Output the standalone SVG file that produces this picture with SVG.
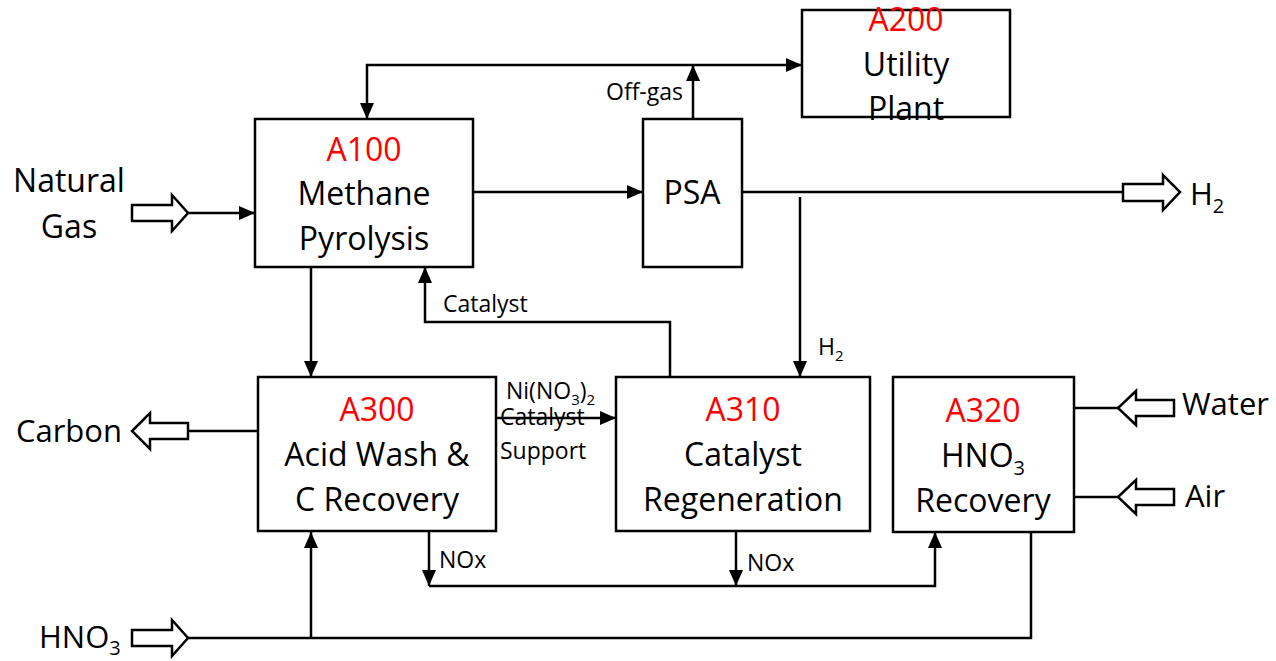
<svg xmlns="http://www.w3.org/2000/svg" width="1276" height="661" viewBox="0 0 1276 661">
<style>
.box{fill:#fff;stroke:#000;stroke-width:2.5}
.ln{fill:none;stroke:#000;stroke-width:2.5}
.hol{fill:#fff;stroke:#000;stroke-width:2.5;stroke-linejoin:miter}
.big{font-family:"Open Sans","Liberation Sans",sans-serif;font-size:31px;fill:#000}
.mid{font-family:"Open Sans","Liberation Sans",sans-serif;font-size:32px;fill:#000;text-anchor:middle}
.red{fill:#ff0000}
.sm{font-family:"Open Sans","Liberation Sans",sans-serif;font-size:23px;fill:#000}
</style>
<defs>
<marker id="ah" markerUnits="userSpaceOnUse" markerWidth="16" markerHeight="14" refX="16" refY="7" orient="auto">
<path d="M0,0 L16,7 L0,14 z" fill="#000"/>
</marker>
</defs>
<g id="connectors">
<path class="ln" d="M188,213 L255,213" marker-end="url(#ah)"/>
<path class="ln" d="M472,192 L643,192" marker-end="url(#ah)"/>
<path class="ln" d="M742,192 L1123,192"/>
<path class="ln" d="M693,119 L693,65" marker-end="url(#ah)"/>
<path class="ln" d="M693,65 L367,65 L367,119" marker-end="url(#ah)"/>
<path class="ln" d="M693,65 L802,65" marker-end="url(#ah)"/>
<path class="ln" d="M311,267 L311,377" marker-end="url(#ah)"/>
<path class="ln" d="M670,377 L670,322 L425,322 L425,267" marker-end="url(#ah)"/>
<path class="ln" d="M800,197 L800,377" marker-end="url(#ah)"/>
<path class="ln" d="M470,418 L616,418" marker-end="url(#ah)"/>
<path class="ln" d="M258,431 L188,431"/>
<path class="ln" d="M188,638 L1031,638 L1031,532"/>
<path class="ln" d="M311,638 L311,532" marker-end="url(#ah)"/>
<path class="ln" d="M429,531 L429,586" marker-end="url(#ah)"/>
<path class="ln" d="M736,531 L736,586" marker-end="url(#ah)"/>
<path class="ln" d="M429,586 L935,586 L935,532" marker-end="url(#ah)"/>
<path class="ln" d="M1066,408 L1118,408"/>
<path class="ln" d="M1066,497 L1118,497"/>
<polygon class="hol" points="132,205 172,205 172,195 188,213 172,231 172,221 132,221"/>
<polygon class="hol" points="1123,184 1163,184 1163,175 1180,192 1163,210 1163,201 1123,201"/>
<polygon class="hol" points="188,423 150,423 150,413 132,431 150,449 150,439 188,439"/>
<polygon class="hol" points="132,630 172,630 172,620 188,638 172,656 172,646 132,646"/>
<polygon class="hol" points="1174,400 1136,400 1136,391 1118,408 1136,425 1136,416 1174,416"/>
<polygon class="hol" points="1174,489 1136,489 1136,480 1118,497 1136,514 1136,505 1174,505"/>
</g>
<g id="A200">
<rect class="box" x="802" y="10" width="208" height="107"/>
<text class="mid red" x="906" y="31">A200</text>
<text class="mid" x="906" y="76">Utility</text>
<text class="mid" x="906" y="120">Plant</text>
</g>
<g id="A100">
<rect class="box" x="255" y="119" width="218" height="148"/>
<text class="mid red" x="364" y="161">A100</text>
<text class="mid" x="364" y="205">Methane</text>
<text class="mid" x="364" y="250">Pyrolysis</text>
</g>
<g id="PSA">
<rect class="box" x="643" y="119" width="99" height="148"/>
<text class="mid" x="692" y="204">PSA</text>
</g>
<g id="A300">
<rect class="box" x="258" y="377" width="238" height="154"/>
<text class="mid red" x="377" y="421">A300</text>
<text class="mid" x="377" y="466">Acid Wash &amp;</text>
<text class="mid" x="377" y="511">C Recovery</text>
</g>
<g id="A310">
<rect class="box" x="616" y="377" width="254" height="154"/>
<text class="mid red" x="743" y="421">A310</text>
<text class="mid" x="743" y="466">Catalyst</text>
<text class="mid" x="743" y="511">Regeneration</text>
</g>
<g id="A320">
<rect class="box" x="893" y="377" width="181" height="155"/>
<text class="mid red" x="983" y="422">A320</text>
<text class="mid" x="983" y="467">HNO<tspan font-size="20" dy="8">3</tspan></text>
<text class="mid" x="983" y="512">Recovery</text>
</g>
<g id="labels">
<text class="mid" x="69" y="192">Natural</text>
<text class="mid" x="69" y="238">Gas</text>
<text class="big" x="122" y="442" text-anchor="end">Carbon</text>
<text class="big" x="39" y="648">HNO<tspan font-size="20" dy="7">3</tspan></text>
<text class="big" x="1182" y="415">Water</text>
<text class="big" x="1185" y="507">Air</text>
<text class="big" x="1190" y="205">H<tspan font-size="20" dy="8">2</tspan></text>
<text class="sm" x="683" y="100" text-anchor="end">Off-gas</text>
<text class="sm" x="443" y="312">Catalyst</text>
<text class="sm" x="818" y="355">H<tspan font-size="15" dy="6">2</tspan></text>
<text class="sm" x="506" y="399">Ni(NO<tspan font-size="15" dy="6">3</tspan><tspan dy="-6">)</tspan><tspan font-size="15" dy="6">2</tspan></text>
<text class="sm" x="500" y="425">Catalyst</text>
<text class="sm" x="500" y="459">Support</text>
<text class="sm" x="439" y="568">NOx</text>
<text class="sm" x="747" y="571">NOx</text>
</g>
</svg>
